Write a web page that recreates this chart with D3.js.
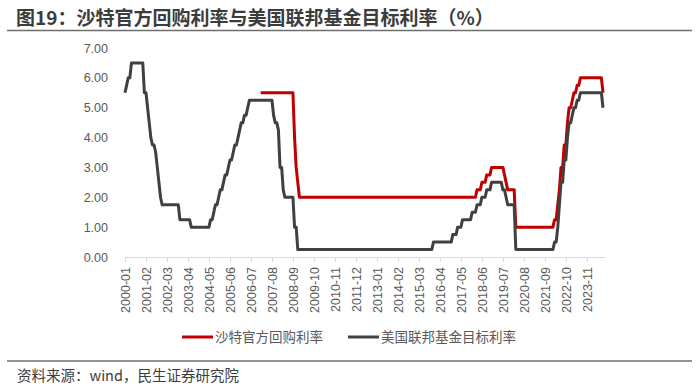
<!DOCTYPE html>
<html>
<head>
<meta charset="utf-8">
<script src="https://cdn.jsdelivr.net/npm/d3@7"></script>
<style>
  body { margin: 0; background: #fff; }
  text { font-family: "Noto Sans CJK SC", "Liberation Sans", sans-serif; }
</style>
</head>
<body>
<div id="main"></div>
<script>
// 月度类目 2000-01 ~ 2024-09
const months = [];
for (let yr = 2000; yr <= 2024; yr++) {
  for (let m = 1; m <= 12; m++) {
    if (yr === 2024 && m > 9) break;
    months.push(yr + '-' + String(m).padStart(2, '0'));
  }
}

// 美国联邦基金目标利率（上限，月末）
const fedRate = [
  5.5, 5.75, 6, 6, 6.5, 6.5, 6.5, 6.5, 6.5, 6.5, 6.5, 6.5,             // 2000
  5.5, 5.5, 5, 4.5, 4, 3.75, 3.75, 3.5, 3, 2.5, 2, 1.75,               // 2001
  1.75, 1.75, 1.75, 1.75, 1.75, 1.75, 1.75, 1.75, 1.75, 1.75, 1.25, 1.25, // 2002
  1.25, 1.25, 1.25, 1.25, 1.25, 1, 1, 1, 1, 1, 1, 1,                   // 2003
  1, 1, 1, 1, 1, 1.25, 1.25, 1.5, 1.75, 1.75, 2, 2.25,                 // 2004
  2.25, 2.5, 2.75, 2.75, 3, 3.25, 3.25, 3.5, 3.75, 3.75, 4, 4.25,      // 2005
  4.5, 4.5, 4.75, 4.75, 5, 5.25, 5.25, 5.25, 5.25, 5.25, 5.25, 5.25,   // 2006
  5.25, 5.25, 5.25, 5.25, 5.25, 5.25, 5.25, 5.25, 4.75, 4.5, 4.5, 4.25, // 2007
  3, 3, 2.25, 2, 2, 2, 2, 2, 2, 1, 1, 0.25,                            // 2008
  0.25, 0.25, 0.25, 0.25, 0.25, 0.25, 0.25, 0.25, 0.25, 0.25, 0.25, 0.25, // 2009
  0.25, 0.25, 0.25, 0.25, 0.25, 0.25, 0.25, 0.25, 0.25, 0.25, 0.25, 0.25, // 2010
  0.25, 0.25, 0.25, 0.25, 0.25, 0.25, 0.25, 0.25, 0.25, 0.25, 0.25, 0.25, // 2011
  0.25, 0.25, 0.25, 0.25, 0.25, 0.25, 0.25, 0.25, 0.25, 0.25, 0.25, 0.25, // 2012
  0.25, 0.25, 0.25, 0.25, 0.25, 0.25, 0.25, 0.25, 0.25, 0.25, 0.25, 0.25, // 2013
  0.25, 0.25, 0.25, 0.25, 0.25, 0.25, 0.25, 0.25, 0.25, 0.25, 0.25, 0.25, // 2014
  0.25, 0.25, 0.25, 0.25, 0.25, 0.25, 0.25, 0.25, 0.25, 0.25, 0.25, 0.5,  // 2015
  0.5, 0.5, 0.5, 0.5, 0.5, 0.5, 0.5, 0.5, 0.5, 0.5, 0.5, 0.75,          // 2016
  0.75, 0.75, 1, 1, 1, 1.25, 1.25, 1.25, 1.25, 1.25, 1.25, 1.5,        // 2017
  1.5, 1.5, 1.75, 1.75, 1.75, 2, 2, 2, 2.25, 2.25, 2.25, 2.5,          // 2018
  2.5, 2.5, 2.5, 2.5, 2.5, 2.5, 2.25, 2.25, 2, 1.75, 1.75, 1.75,       // 2019
  1.75, 1.75, 0.25, 0.25, 0.25, 0.25, 0.25, 0.25, 0.25, 0.25, 0.25, 0.25, // 2020
  0.25, 0.25, 0.25, 0.25, 0.25, 0.25, 0.25, 0.25, 0.25, 0.25, 0.25, 0.25, // 2021
  0.25, 0.25, 0.5, 0.5, 1, 1.75, 2.5, 2.5, 3.25, 3.25, 4, 4.5,         // 2022
  4.5, 4.75, 5, 5, 5.25, 5.25, 5.5, 5.5, 5.5, 5.5, 5.5, 5.5,           // 2023
  5.5, 5.5, 5.5, 5.5, 5.5, 5.5, 5.5, 5.5, 5                            // 2024
];

// 沙特官方回购利率（2007-01 起）
const samaRate = [
  null, null, null, null, null, null, null, null, null, null, null, null, // 2000
  null, null, null, null, null, null, null, null, null, null, null, null, // 2001
  null, null, null, null, null, null, null, null, null, null, null, null, // 2002
  null, null, null, null, null, null, null, null, null, null, null, null, // 2003
  null, null, null, null, null, null, null, null, null, null, null, null, // 2004
  null, null, null, null, null, null, null, null, null, null, null, null, // 2005
  null, null, null, null, null, null, null, null, null, null, null, null, // 2006
  5.5, 5.5, 5.5, 5.5, 5.5, 5.5, 5.5, 5.5, 5.5, 5.5, 5.5, 5.5,          // 2007
  5.5, 5.5, 5.5, 5.5, 5.5, 5.5, 5.5, 5.5, 5.5, 4, 3, 2.5,              // 2008
  2, 2, 2, 2, 2, 2, 2, 2, 2, 2, 2, 2,                                  // 2009
  2, 2, 2, 2, 2, 2, 2, 2, 2, 2, 2, 2,                                  // 2010
  2, 2, 2, 2, 2, 2, 2, 2, 2, 2, 2, 2,                                  // 2011
  2, 2, 2, 2, 2, 2, 2, 2, 2, 2, 2, 2,                                  // 2012
  2, 2, 2, 2, 2, 2, 2, 2, 2, 2, 2, 2,                                  // 2013
  2, 2, 2, 2, 2, 2, 2, 2, 2, 2, 2, 2,                                  // 2014
  2, 2, 2, 2, 2, 2, 2, 2, 2, 2, 2, 2,                                  // 2015
  2, 2, 2, 2, 2, 2, 2, 2, 2, 2, 2, 2,                                  // 2016
  2, 2, 2, 2, 2, 2, 2, 2, 2, 2, 2, 2,                                  // 2017
  2, 2, 2.25, 2.25, 2.25, 2.5, 2.5, 2.5, 2.75, 2.75, 2.75, 3,          // 2018
  3, 3, 3, 3, 3, 3, 3, 2.75, 2.5, 2.25, 2.25, 2.25,                    // 2019
  2.25, 2.25, 1, 1, 1, 1, 1, 1, 1, 1, 1, 1,                            // 2020
  1, 1, 1, 1, 1, 1, 1, 1, 1, 1, 1, 1,                                  // 2021
  1, 1, 1.25, 1.25, 1.75, 2.25, 3, 3, 3.75, 3.75, 4.5, 5,              // 2022
  5, 5.25, 5.5, 5.5, 5.75, 5.75, 6, 6, 6, 6, 6, 6,                     // 2023
  6, 6, 6, 6, 6, 6, 6, 6, 5.5                                          // 2024
];

const yTicks = [0, 1, 2, 3, 4, 5, 6, 7];
const seriesNames = ['沙特官方回购利率', '美国联邦基金目标利率'];
const seriesColors = ['#c00000', '#404040'];

const width = 700, height = 390;
const plotLeft = 125, plotRight = 603, plotTop = 48, plotBottom = 257;

const svg = d3.select('#main').append('svg')
  .attr('width', width)
  .attr('height', height);

// 标题
svg.append('text')
  .attr('x', 16).attr('y', 25)
  .attr('font-size', 19).attr('font-weight', 'bold')
  .attr('fill', '#3c3c3c')
  .text('图19：沙特官方回购利率与美国联邦基金目标利率（%）');
svg.append('line')
  .attr('x1', 7).attr('x2', 692).attr('y1', 30.5).attr('y2', 30.5)
  .attr('stroke', '#6e6e6e').attr('stroke-width', 1.5);

const x = d3.scalePoint().domain(months).range([plotLeft, plotRight]);
const y = d3.scaleLinear().domain([0, 7]).range([plotBottom, plotTop]);

// y 轴
const yAxis = svg.append('g')
  .attr('transform', `translate(${plotLeft},0)`)
  .call(d3.axisLeft(y).tickValues(yTicks).tickFormat(d3.format('.2f')).tickSize(0).tickPadding(17));
yAxis.select('.domain').remove();
yAxis.selectAll('text').attr('font-size', 12.5).attr('fill', '#595959')
  .style('font-family', '"Liberation Sans", sans-serif');

// x 轴
const xAxis = svg.append('g')
  .attr('transform', `translate(0,${plotBottom})`)
  .call(d3.axisBottom(x).tickValues(months.filter((d, i) => i % 13 === 0)).tickSize(5).tickSizeOuter(0));
xAxis.select('.domain').attr('stroke', '#d9d9d9').attr('d', `M${plotLeft},0.5H${plotRight + 2}`);
xAxis.selectAll('.tick line').attr('stroke', '#d9d9d9');
xAxis.selectAll('text')
  .attr('font-size', 12.5).attr('fill', '#595959')
  .style('font-family', '"Liberation Sans", sans-serif')
  .attr('text-anchor', 'end')
  .attr('transform', 'rotate(-90)')
  .attr('x', -10).attr('y', 0).attr('dy', '0.35em');

// 折线
const line = d3.line()
  .defined(d => d.v != null)
  .x(d => x(d.m))
  .y(d => y(d.v));

[samaRate, fedRate].forEach((vals, k) => {
  svg.append('path')
    .datum(months.map((m, i) => ({ m: m, v: vals[i] })))
    .attr('fill', 'none')
    .attr('stroke', seriesColors[k])
    .attr('stroke-width', 3)
    .attr('stroke-linejoin', 'round')
    .attr('d', line);
});

// 图例
const legendX = [182, 348];
seriesNames.forEach((name, k) => {
  const g = svg.append('g').attr('transform', `translate(${legendX[k]},337)`);
  g.append('line').attr('x1', 0).attr('x2', 31).attr('y1', 0).attr('y2', 0)
    .attr('stroke', seriesColors[k]).attr('stroke-width', 3);
  g.append('text').attr('x', 33).attr('y', 0).attr('dy', '0.35em')
    .attr('font-size', 13.5).attr('fill', '#595959')
    .text(name);
});

// 资料来源
svg.append('line')
  .attr('x1', 7).attr('x2', 692).attr('y1', 361).attr('y2', 361)
  .attr('stroke', '#6e6e6e').attr('stroke-width', 1.5);
svg.append('text')
  .attr('x', 17).attr('y', 381)
  .attr('font-size', 14.5).attr('fill', '#3c3c3c')
  .text('资料来源：wind，民生证券研究院');
</script>
</body>
</html>
